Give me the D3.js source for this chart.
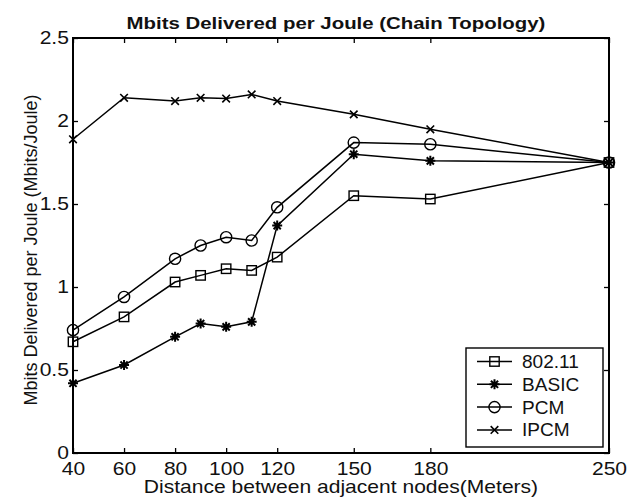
<!DOCTYPE html>
<html>
<head>
<meta charset="utf-8">
<script src="https://cdn.jsdelivr.net/npm/d3@7"></script>
<style>
  html, body { margin: 0; padding: 0; background: #fff; }
  svg { display: block; font-family: "Liberation Sans", Arial, Helvetica, sans-serif; }
</style>
</head>
<body>
<svg id="chart" width="637" height="502"></svg>
<script>
// Node spacing (meters)
const distances = [40, 60, 80, 90, 100, 110, 120, 150, 180, 250];

// Energy efficiency for each protocol (Mbits per Joule)
const ieee80211 = [0.67, 0.82, 1.03, 1.07, 1.11, 1.10, 1.18, 1.55, 1.53, 1.75];
const basic     = [0.42, 0.53, 0.70, 0.78, 0.76, 0.79, 1.37, 1.80, 1.76, 1.75];
const pcm       = [0.74, 0.94, 1.17, 1.25, 1.30, 1.28, 1.48, 1.87, 1.86, 1.75];
const ipcm      = [1.89, 2.14, 2.12, 2.14, 2.135, 2.16, 2.12, 2.04, 1.95, 1.75];

const seriesNames = ["802.11", "BASIC", "PCM", "IPCM"];
const seriesMarkers = ["square", "asterisk", "circle", "cross"];
const seriesValues = [ieee80211, basic, pcm, ipcm];

const xTicks = [40, 60, 80, 100, 120, 150, 180, 250];
const yTicks = [0, 0.5, 1, 1.5, 2, 2.5];

const titleText = "Mbits Delivered per Joule (Chain Topology)";
const xLabel = "Distance between adjacent nodes(Meters)";
const yLabel = "Mbits Delivered per Joule (Mbits/Joule)";

const svg = d3.select("#chart");
const plot = { left: 73, right: 609, top: 38, bottom: 453 };

const x = d3.scaleLinear().domain([40, 250]).range([plot.left, plot.right]);
const y = d3.scaleLinear().domain([0, 2.5]).range([plot.bottom, plot.top]);

const fontSize = 18;
const widen = 1.17;   // horizontal stretch of the lettering
const tickLen = 5;

// Axes with inward ticks on all four sides
const bottomAxis = d3.axisBottom(x).tickValues(xTicks).tickSize(-tickLen).tickPadding(9).tickFormat(d3.format("d"));
const topAxis = d3.axisTop(x).tickValues(xTicks).tickSize(-tickLen).tickFormat("");
const leftAxis = d3.axisLeft(y).tickValues(yTicks).tickSize(-tickLen).tickPadding(3.5).tickFormat(d => d3.format("")(d));
const rightAxis = d3.axisRight(y).tickValues(yTicks).tickSize(-tickLen).tickFormat("");

function styleAxis(g) {
  g.select(".domain").remove();
  g.selectAll(".tick line").attr("stroke", "#000").attr("stroke-width", 1.3);
  g.selectAll("text").attr("fill", "#111").style("font-size", fontSize + "px")
    .style("font-family", "'Liberation Sans', Arial, sans-serif")
    .attr("transform", `scale(${widen},1)`);
}

svg.append("g").attr("transform", `translate(0,${plot.bottom})`).call(bottomAxis).call(styleAxis);
svg.append("g").attr("transform", `translate(0,${plot.top})`).call(topAxis).call(styleAxis);
svg.append("g").attr("transform", `translate(${plot.left},0)`).call(leftAxis).call(styleAxis);
svg.append("g").attr("transform", `translate(${plot.right},0)`).call(rightAxis).call(styleAxis);

// Axes box
svg.append("rect")
  .attr("x", plot.left).attr("y", plot.top)
  .attr("width", plot.right - plot.left).attr("height", plot.bottom - plot.top)
  .attr("fill", "none").attr("stroke", "#000").attr("stroke-width", 2);

// Marker drawing
function drawMarker(g, type, cx, cy) {
  const s = 4.7;
  if (type === "square") {
    g.append("rect").attr("x", cx - s).attr("y", cy - s).attr("width", 2 * s).attr("height", 2 * s)
      .attr("fill", "none").attr("stroke", "#000").attr("stroke-width", 1.4);
  } else if (type === "circle") {
    g.append("circle").attr("cx", cx).attr("cy", cy).attr("r", 5.6)
      .attr("fill", "none").attr("stroke", "#000").attr("stroke-width", 1.4);
  } else if (type === "asterisk") {
    const r = 5;
    const d = r * 0.72;
    g.append("path")
      .attr("d", `M${cx - r},${cy}H${cx + r}M${cx},${cy - r}V${cy + r}M${cx - d},${cy - d}L${cx + d},${cy + d}M${cx - d},${cy + d}L${cx + d},${cy - d}`)
      .attr("stroke", "#000").attr("stroke-width", 2);
  } else if (type === "cross") {
    const r = 3.8;
    g.append("path")
      .attr("d", `M${cx - r},${cy - r}L${cx + r},${cy + r}M${cx - r},${cy + r}L${cx + r},${cy - r}`)
      .attr("stroke", "#000").attr("stroke-width", 1.6);
  }
}

const line = d3.line().x(d => x(d[0])).y(d => y(d[1]));

seriesValues.forEach((vals, i) => {
  const pts = distances.map((dv, j) => [dv, vals[j]]);
  const g = svg.append("g");
  g.append("path").datum(pts).attr("d", line)
    .attr("fill", "none").attr("stroke", "#000").attr("stroke-width", 1.5);
  pts.forEach(p => drawMarker(g, seriesMarkers[i], x(p[0]), y(p[1])));
});

// Legend
const legend = svg.append("g");
legend.append("rect").attr("x", 466).attr("y", 348).attr("width", 137).attr("height", 99)
  .attr("fill", "#fff").attr("stroke", "#000").attr("stroke-width", 1.4);
seriesNames.forEach((name, i) => {
  const ly = 361.5 + i * 22.8;
  legend.append("line").attr("x1", 477).attr("x2", 512).attr("y1", ly).attr("y2", ly)
    .attr("stroke", "#000").attr("stroke-width", 1.5);
  drawMarker(legend, seriesMarkers[i], 494.5, ly);
  legend.append("text").attr("transform", `translate(522,${ly}) scale(1.06,1)`).attr("dy", "0.36em")
    .style("font-size", fontSize + "px").attr("fill", "#111").text(name);
});

// Titles
svg.append("text").attr("transform", `translate(${(plot.left + plot.right) / 2 - 5},29) scale(1.2,1)`)
  .attr("text-anchor", "middle").style("font-size", "17px").style("font-weight", "bold")
  .attr("fill", "#111").text(titleText);

svg.append("text").attr("transform", `translate(${(plot.left + plot.right) / 2},493) scale(${widen},1)`)
  .attr("text-anchor", "middle").style("font-size", fontSize + "px")
  .attr("fill", "#111").text(xLabel);

svg.append("text").attr("transform", `translate(37,250) rotate(-90)`)
  .attr("text-anchor", "middle").style("font-size", fontSize + "px")
  .attr("fill", "#111").text(yLabel);
</script>
</body>
</html>
